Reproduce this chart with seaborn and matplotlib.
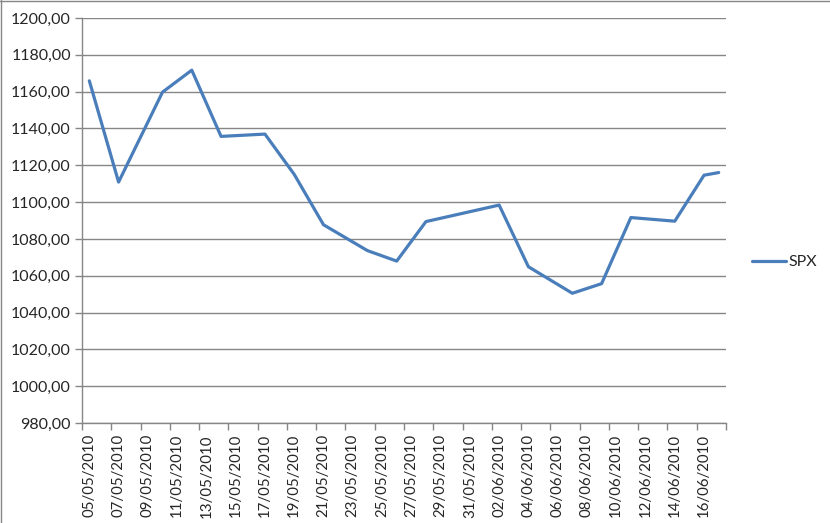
import pandas as pd
import numpy as np
import seaborn as sns
import matplotlib.pyplot as plt
import matplotlib.dates as mdates
from matplotlib.ticker import FuncFormatter, FixedLocator
from matplotlib.lines import Line2D

# Data (SPX closes)
dates = ['05/05/2010', '07/05/2010', '10/05/2010', '12/05/2010', '14/05/2010',
         '17/05/2010', '19/05/2010', '21/05/2010', '24/05/2010', '26/05/2010',
         '28/05/2010', '02/06/2010', '04/06/2010', '07/06/2010', '09/06/2010',
         '11/06/2010', '14/06/2010', '16/06/2010', '17/06/2010']
spx = [1165.87, 1110.88, 1159.73, 1171.67, 1135.68,
       1136.94, 1115.05, 1087.69, 1073.65, 1067.95,
       1089.41, 1098.38, 1064.88, 1050.47, 1055.69,
       1091.60, 1089.63, 1114.61, 1116.04]
start_date = '05/05/2010'
end_date = '17/06/2010'
y_ticks = [980, 1000, 1020, 1040, 1060, 1080, 1100, 1120, 1140, 1160, 1180, 1200]

df = pd.DataFrame({'date': pd.to_datetime(dates, format='%d/%m/%Y'), 'SPX': spx})
start = pd.to_datetime(start_date, format='%d/%m/%Y')
end = pd.to_datetime(end_date, format='%d/%m/%Y')

sns.set_style('white')
plt.rcParams['font.family'] = ['Lato', 'DejaVu Sans']

fig = plt.figure(figsize=(8.3, 5.23), dpi=100)
ax = fig.add_axes([82 / 830, 1 - 423 / 523, (726 - 82) / 830, (423 - 18) / 523])

sns.lineplot(data=df, x='date', y='SPX', ax=ax, color='#4A7EBB', linewidth=2.3, label='SPX')

# x axis: one slot per day, ticks on slot edges every 2 days, labels at slot centres
half = pd.Timedelta(hours=12)
ax.set_xlim(start - half, end + half)
edges = pd.date_range(start - half, end + half, freq='2D')
centres = pd.date_range(start, end, freq='2D')
ax.xaxis.set_major_locator(FixedLocator(mdates.date2num(edges)))
ax.xaxis.set_major_formatter(FuncFormatter(lambda v, p: ''))
ax.xaxis.set_minor_locator(FixedLocator(mdates.date2num(centres)))
ax.xaxis.set_minor_formatter(FuncFormatter(lambda v, p: mdates.num2date(v).strftime('%d/%m/%Y')))
ax.tick_params(axis='x', which='major', length=5, width=1, color='#868686', direction='out', bottom=True)
ax.tick_params(axis='x', which='minor', length=0, labelsize=10.8, labelrotation=90, pad=8, bottom=True)

# y axis
ax.set_ylim(980, 1200)
ax.set_yticks(y_ticks)
ax.yaxis.set_major_formatter(FuncFormatter(lambda v, p: f'{v:.2f}'.replace('.', ',')))
ax.tick_params(axis='y', length=5, width=1, color='#868686', direction='out', left=True, labelsize=11.5, pad=3)
ax.grid(axis='y', color='#868686', linewidth=1)
ax.grid(axis='x', visible=False)

for s in ['top', 'right']:
    ax.spines[s].set_visible(False)
for s in ['left', 'bottom']:
    ax.spines[s].set_color('#868686')
    ax.spines[s].set_linewidth(1)

ax.set_xlabel('')
ax.set_ylabel('')

ax.legend(loc='center left', bbox_to_anchor=(752 / 830, 1 - 262 / 523),
          bbox_transform=fig.transFigure, frameon=False, borderpad=0,
          borderaxespad=0, handlelength=2.1, handletextpad=0.2, fontsize=11.5)

# chart border (top and left edges visible)
fig.add_artist(Line2D([0, 1], [1 - 0.5 / 523, 1 - 0.5 / 523], color='#868686', linewidth=1))
fig.add_artist(Line2D([0.5 / 830, 0.5 / 830], [0, 1], color='#868686', linewidth=1))

fig.savefig('out.png', dpi=100)
